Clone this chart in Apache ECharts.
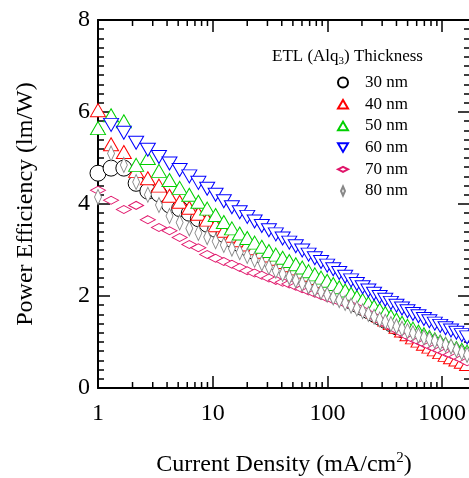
<!DOCTYPE html>
<html><head><meta charset="utf-8">
<script src="https://cdn.jsdelivr.net/npm/echarts@6/dist/echarts.min.js"></script>
<style>html,body{margin:0;padding:0;background:#fff}#c{width:469px;height:478px}</style>
</head><body><div id="c"></div>
<script>
// Current density (mA/cm^2)
const currentDensity = [1.0, 1.3, 1.68, 2.15, 2.72, 3.4, 4.2, 5.15, 6.25, 7.5, 8.95, 10.6, 12.5, 14.7, 17.2, 20.0, 23.2, 26.8, 30.9, 35.5, 40.7, 46.5, 53, 60.3, 68.5, 77.7, 88, 99.5, 112.4, 126.8, 142.8, 160.7, 180.6, 202.8, 227.5, 255, 285.5, 319.5, 357.5, 400, 447, 499, 557, 622, 694, 774, 863, 962, 1072, 1195, 1332, 1484, 1650];
// Power efficiency (lm/W) per ETL thickness
const pe30 = [4.67,4.78,4.78,4.45,4.28,4.22,3.98,3.9,3.8,3.68,3.56,3.45,3.34,3.23,3.13,3.04,2.96,2.88,2.8,2.73,2.66,2.59,2.52,2.45,2.38,2.31,2.24,2.17,2.1,2.03,1.96,1.89,1.82,1.75,1.68,1.61,1.54,1.47,1.4,1.33,1.27,1.21,1.15,1.09,1.03,0.98,0.93,0.88,0.83,0.78,0.73,0.69,0.65];
const pe40 = [6.04,5.3,5.13,4.72,4.56,4.4,4.18,4.05,3.92,3.79,3.66,3.54,3.42,3.31,3.21,3.12,3.04,2.96,2.88,2.81,2.74,2.67,2.6,2.53,2.46,2.39,2.32,2.25,2.18,2.11,2.05,1.97,1.89,1.81,1.73,1.65,1.57,1.49,1.41,1.33,1.25,1.17,1.1,1.03,0.96,0.9,0.84,0.78,0.72,0.67,0.62,0.57,0.52];
const pe50 = [5.65,5.93,5.8,4.85,5.0,4.72,4.52,4.35,4.2,4.05,3.9,3.76,3.61,3.47,3.36,3.26,3.16,3.07,2.98,2.9,2.83,2.76,2.69,2.62,2.54,2.47,2.4,2.33,2.26,2.19,2.12,2.05,1.98,1.91,1.84,1.77,1.7,1.63,1.56,1.49,1.42,1.35,1.29,1.23,1.17,1.11,1.06,1.01,0.96,0.91,0.87,0.83,0.79];
const pe60 = [null,5.72,5.55,5.33,5.18,5.02,4.88,4.74,4.6,4.46,4.33,4.2,4.06,3.93,3.82,3.72,3.62,3.52,3.43,3.34,3.25,3.16,3.08,2.99,2.9,2.82,2.74,2.66,2.58,2.5,2.42,2.34,2.26,2.19,2.12,2.05,1.98,1.92,1.85,1.79,1.73,1.67,1.61,1.56,1.5,1.45,1.4,1.35,1.3,1.25,1.2,1.15,1.1];
const pe70 = [4.3,4.08,3.88,3.97,3.66,3.49,3.42,3.27,3.12,3.05,2.9,2.82,2.75,2.69,2.62,2.55,2.5,2.45,2.39,2.34,2.3,2.26,2.21,2.16,2.11,2.06,2.01,1.96,1.92,1.88,1.84,1.8,1.75,1.69,1.62,1.55,1.48,1.41,1.34,1.27,1.2,1.13,1.07,1.02,0.97,0.92,0.87,0.82,0.77,0.73,0.68,0.63,0.57];
const pe80 = [4.15,5.1,4.85,4.48,4.2,3.98,3.74,3.6,3.47,3.37,3.28,3.19,3.11,3.03,2.95,2.87,2.79,2.71,2.63,2.55,2.48,2.41,2.34,2.27,2.21,2.15,2.09,2.03,1.97,1.91,1.85,1.79,1.73,1.67,1.61,1.55,1.49,1.44,1.39,1.34,1.29,1.24,1.19,1.14,1.1,1.06,1.02,0.98,0.94,0.9,0.83,0.77,0.72];
const seriesNames = ['30 nm','40 nm','50 nm','60 nm','70 nm','80 nm'];
const logMinorTicks = [2,3,4,5,6,7,8,9,20,30,40,50,60,70,80,90,200,300,400,500,600,700,800,900];

const FONT = 'Liberation Serif';
const BLACK = '#000';
const styles = [
  {symbol:'circle', size:16, rotate:0, color:'#000000', icon:'circle'},
  {symbol:'triangle', size:[15,13], rotate:0, color:'#ff0000', icon:'path://M0,0M14,14M0,13L7,1L14,13Z'},
  {symbol:'triangle', size:[15,13], rotate:0, color:'#00d000', icon:'path://M0,0M14,14M0,13L7,1L14,13Z'},
  {symbol:'triangle', size:[15,13], rotate:180, color:'#0000ff', icon:'path://M0,0M14,14M0,1L14,1L7,13Z'},
  {symbol:'diamond', size:[15,8], rotate:0, color:'#e0156a', icon:'path://M0,0M14,14M0,7L7,3.5L14,7L7,10.5Z'},
  {symbol:'diamond', size:[7,15], rotate:0, color:'#888888', icon:'path://M0,0M14,14M7,0.7L9.8,7L7,13.3L4.2,7Z'}
];
const peSets = [pe30, pe40, pe50, pe60, pe70, pe80];

function pts(pe){ return currentDensity.map((j,i)=>[j, pe[i]]).filter(p=>p[1]!=null); }

const scatterSeries = peSets.map((pe, k) => ({
  name: seriesNames[k], type:'scatter', data: pts(pe),
  symbol: styles[k].symbol, symbolSize: styles[k].size, symbolRotate: styles[k].rotate,
  itemStyle: {color:'#ffffff', borderColor: styles[k].color, borderWidth: 1, opacity: 1},
  emphasis: {disabled: true}, animation: false, z: 2
}));

const tickLine = {color: BLACK, width: 1.5};
const axLine = {show:true, onZero:false, lineStyle:{color: BLACK, width: 2}};

const chart = echarts.init(document.getElementById('c'), null, {renderer:'canvas'});
chart.setOption({
  animation: false,
  backgroundColor: '#fff',
  grid: {left: 98, right: -1, top: 20, bottom: 90, containLabel: false, outerBoundsMode: 'none'},
  title: {
    left: 272, top: 47, padding: 0,
    text: '{a|ETL (Alq}{b|3}{a|) Thickness}',
    textStyle: {fontWeight: 'normal', rich: {
      a: {fontFamily: FONT, fontSize: 17, fontWeight: 'normal', color: BLACK, lineHeight: 20},
      b: {fontFamily: FONT, fontSize: 11, fontWeight: 'normal', color: BLACK, lineHeight: 11, verticalAlign: 'bottom'}
    }}
  },
  legend: {
    orient: 'vertical', left: 337, top: 74, padding: 0, symbolRotate: 0,
    itemWidth: 34, itemHeight: 10, itemGap: 4.7, selectedMode: false,
    textStyle: {fontFamily: FONT, fontSize: 17, color: BLACK, lineHeight: 17},
    data: seriesNames.map((n, k) => ({name: n, icon: styles[k].icon}))
  },
  xAxis: [{
    type: 'log', logBase: 10, min: 1, max: 1750, position: 'bottom',
    axisLine: axLine,
    axisTick: {show:true, inside: true, length: 12, lineStyle: tickLine},
    minorTick: {show: false}, splitLine: {show: false},
    axisLabel: {color: BLACK, fontFamily: FONT, fontSize: 24, margin: 14, showMaxLabel: false,
      formatter: v => String(Math.round(v))},
    name: '{a|Current Density (mA/cm}{s|2}{a|)}', nameLocation: 'middle', nameGap: 63,
    nameTextStyle: {rich: {
      a: {fontFamily: FONT, fontSize: 24, color: BLACK, lineHeight: 28},
      s: {fontFamily: FONT, fontSize: 15, color: BLACK, lineHeight: 15, verticalAlign: 'top'}
    }}
  }, {
    type: 'log', logBase: 10, min: 1, max: 1750, position: 'top',
    axisLine: axLine,
    axisTick: {show:true, inside: true, length: 12, lineStyle: tickLine},
    minorTick: {show: false}, splitLine: {show: false},
    axisLabel: {show: false}
  }],
  yAxis: [{
    type: 'value', min: 0, max: 8, interval: 2, position: 'left',
    axisLine: axLine,
    axisTick: {show:true, inside: true, length: 12, lineStyle: tickLine},
    minorTick: {show: true, splitNumber: 10, length: 6, lineStyle: tickLine},
    splitLine: {show: false},
    axisLabel: {color: BLACK, fontFamily: FONT, fontSize: 24, margin: 8},
    name: 'Power Efficiency (lm/W)', nameLocation: 'middle', nameGap: 58, nameRotate: 90,
    nameTextStyle: {fontFamily: FONT, fontSize: 24, color: BLACK, lineHeight: 28}
  }, {
    type: 'value', min: 0, max: 8, interval: 2, position: 'right',
    axisLine: axLine,
    axisTick: {show:true, inside: true, length: 12, lineStyle: tickLine},
    minorTick: {show: true, splitNumber: 10, length: 6, lineStyle: tickLine},
    splitLine: {show: false},
    axisLabel: {show: false}
  }],
  series: [...scatterSeries, {
    type: 'custom', silent: true, xAxisIndex: 0, yAxisIndex: 0, z: 1,
    data: logMinorTicks.map(v => [v, 0]),
    renderItem: (params, api) => {
      const v = api.value(0);
      const b = api.coord([v, 0]);
      const t = api.coord([v, 8]);
      return {type: 'group', children: [
        {type: 'line', shape: {x1: b[0], y1: b[1], x2: b[0], y2: b[1] - 6}, style: {stroke: BLACK, lineWidth: 1.5}},
        {type: 'line', shape: {x1: t[0], y1: t[1], x2: t[0], y2: t[1] + 6}, style: {stroke: BLACK, lineWidth: 1.5}}
      ]};
    }
  }]
});
</script></body></html>
